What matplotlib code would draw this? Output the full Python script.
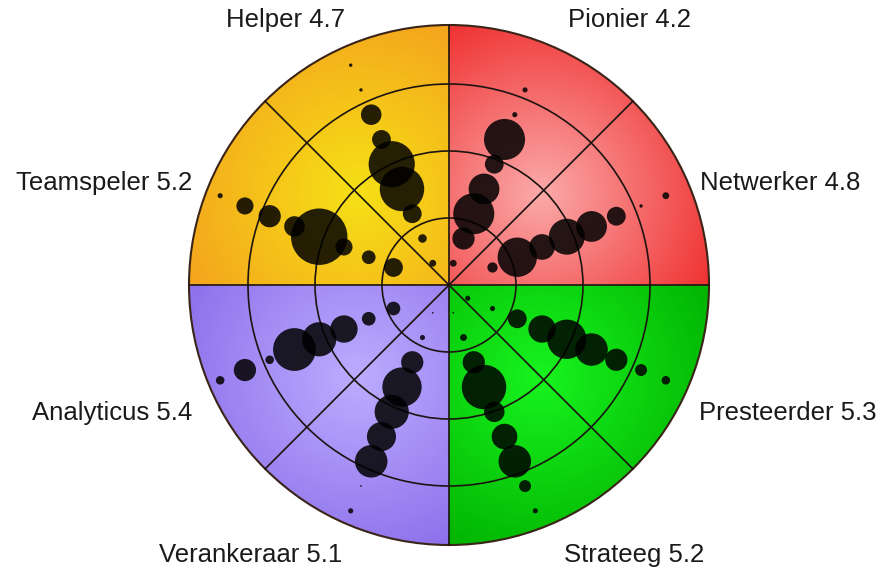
import numpy as np
import matplotlib.pyplot as plt
from matplotlib.patches import Circle
from matplotlib.colors import to_rgb

# ---------------- data: share of answers (%) per level 1..9 ----------------
types = ['Pionier', 'Netwerker', 'Presteerder', 'Strateeg',
         'Verankeraar', 'Analyticus', 'Teamspeler', 'Helper']
scores = [4.2, 4.8, 5.3, 5.2, 5.1, 5.4, 5.2, 4.7]
levels = [1, 2, 3, 4, 5, 6, 7, 8, 9]

pionier     = [4, 13, 24, 18, 11, 24, 3, 3, 0]
netwerker   = [0, 6, 23, 15, 21, 18, 11, 2, 4]
presteerder = [3, 3, 11, 16, 23, 19, 13, 7, 5]
strateeg    = [1, 4, 13, 26, 12, 15, 19, 7, 3]
verankeraar = [1, 3, 13, 23, 20, 17, 19, 1, 3]
analyticus  = [0, 8, 8, 16, 20, 25, 5, 13, 5]
teamspeler  = [0, 11, 8, 10, 33, 12, 13, 10, 3]
helper      = [4, 5, 11, 26, 27, 11, 12, 2, 2]
shares = [pionier, netwerker, presteerder, strateeg,
          verankeraar, analyticus, teamspeler, helper]

# ---------------- layout (pixel units, centre of the disc = 0,0) ----------------
R = 260.0            # outer radius
step = 26.8          # distance per level
rings = [67, 134, 201]
px_per_pct = 0.855   # bubble radius per percent
dot_origin = (-6, -3)

# quadrant colours: (centre, edge)   order: upper right, upper left, lower left, lower right
quad_cols = [('#fbaaaa', '#ef2a2a'),
             ('#f6e116', '#f4a01e'),
             ('#bcadff', '#8a6cea'),
             ('#18f41e', '#00b000')]

fig = plt.figure(figsize=(8.84, 5.71), dpi=100)
ax = fig.add_axes([0, 0, 1, 1])
ax.set_xlim(-449, 435)
ax.set_ylim(-286, 285)
ax.axis('off')

#----------gradient filled quadrants----------
n = 700
g = np.linspace(-R, R, n)
X, Y = np.meshgrid(g, g)
img = np.zeros((n, n, 4))
for q, (cin, cout) in enumerate(quad_cols):
    a = np.deg2rad(45 + 90*q)
    cx, cy = 0.5*R*np.cos(a), 0.5*R*np.sin(a)
    sx = np.cos(a) >= 0
    sy = np.sin(a) >= 0
    m = ((X >= 0) == sx) & ((Y >= 0) == sy)
    t = np.clip(np.hypot(X - cx, Y - cy)/(0.78*R), 0, 1)[..., None]
    col = np.array(to_rgb(cin))*(1 - t) + np.array(to_rgb(cout))*t
    img[m, :3] = col[m]
    img[m, 3] = 1
im = ax.imshow(img, origin='lower', extent=[-R, R, -R, R], interpolation='bilinear', zorder=1)
clip = Circle((0, 0), R, transform=ax.transData)
im.set_clip_path(clip)

#----------grid: rings and spokes----------
lc = '#1c1410'
for r in rings:
    ax.add_patch(Circle((0, 0), r, fill=False, ec=lc, lw=1.2, zorder=2))
ax.add_patch(Circle((0, 0), R, fill=False, ec='#3a2418', lw=1.5, zorder=2))
for k in range(8):
    a = np.deg2rad(45*k)
    ax.plot([0, R*np.cos(a)], [0, R*np.sin(a)], color=lc, lw=1.2, zorder=2)

#----------bubbles----------
for i, vals in enumerate(shares):
    a = np.deg2rad(67.5 - 45*i)
    for lev, v in zip(levels, vals):
        if v <= 0:
            continue
        x = dot_origin[0] + lev*step*np.cos(a)
        y = dot_origin[1] + lev*step*np.sin(a)
        ax.add_patch(Circle((x, y), v*px_per_pct, fc='black', ec='none', alpha=0.85, zorder=3))

#----------labels----------
label_pos = [(180, 265), (331, 102), (339, -128), (185, -270),
             (-198, -270), (-337, -128), (-345, 102), (-164, 265)]
for name, sc, (x, y) in zip(types, scores, label_pos):
    ax.text(x, y, '%s %.1f' % (name, sc), ha='center', va='center', fontsize=18.5,
            color='#1a1a1a', family=['Liberation Sans', 'DejaVu Sans'])

fig.savefig('out.png', dpi=100)
